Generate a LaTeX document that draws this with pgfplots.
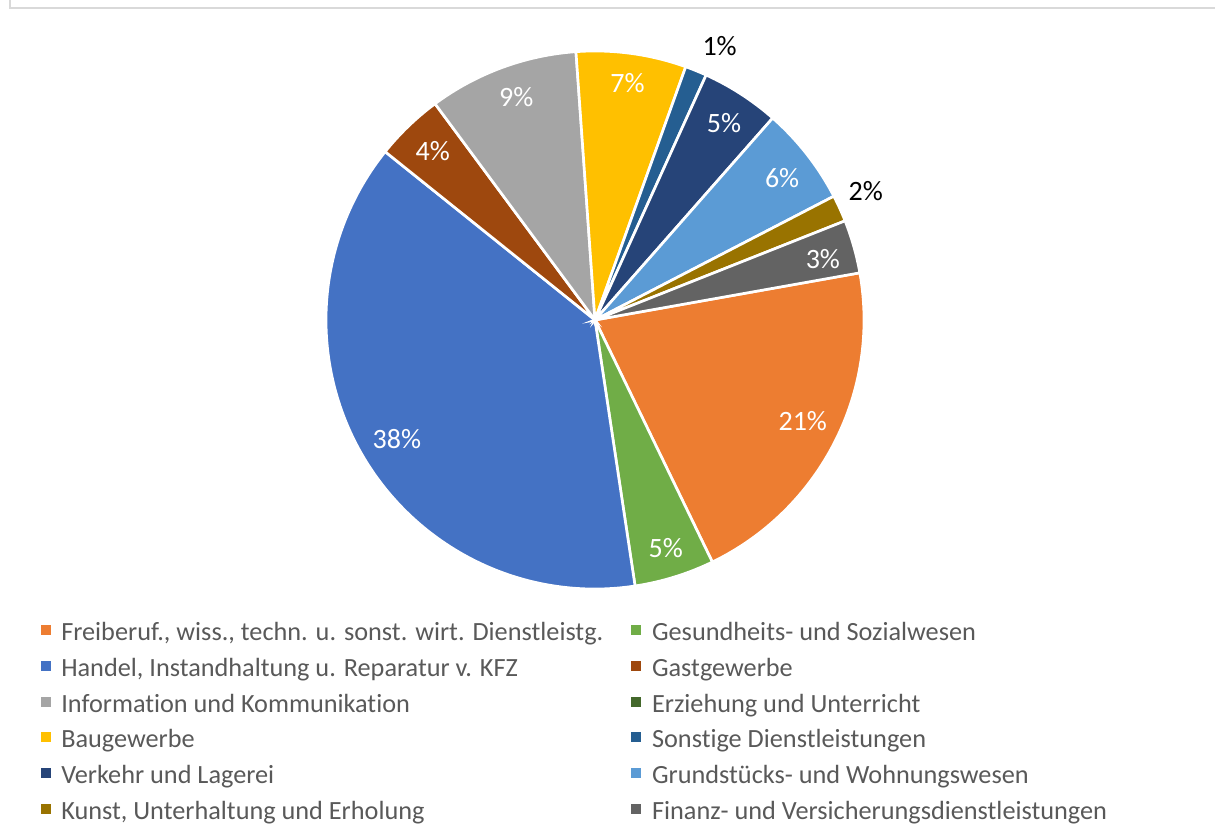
\documentclass[border=0pt]{standalone}
\usepackage{pgfplots}
\usepackage{pgfplotstable}
\pgfplotsset{compat=1.18}
\usepackage{fontspec}
\setmainfont{Carlito}[Ligatures={NoCommon}]

\definecolor{c0}{HTML}{ED7D31}
\definecolor{c1}{HTML}{70AD47}
\definecolor{c2}{HTML}{4472C4}
\definecolor{c3}{HTML}{9E480E}
\definecolor{c4}{HTML}{A5A5A5}
\definecolor{c5}{HTML}{43682B}
\definecolor{c6}{HTML}{FFC000}
\definecolor{c7}{HTML}{255E91}
\definecolor{c8}{HTML}{264478}
\definecolor{c9}{HTML}{5B9BD5}
\definecolor{c10}{HTML}{997300}
\definecolor{c11}{HTML}{636363}
\definecolor{legtext}{HTML}{595959}
\definecolor{framecol}{HTML}{D9D9D9}

% share (percent), label radius (px), label angle shift (deg), label colour flag (1 = black, outside)
\pgfplotstableread{
share lr da lc
20.6 231 1.1 0
4.8 239 0.0 0
38.1 231 1.0 0
4.1 234 0.0 0
9.0 236 -0.8 0
0.0 0 0.0 0
6.6 239 0.0 0
1.3 301 -2.4 1
4.7 235 -0.4 0
5.9 235 -0.8 0
1.6 300 1.0 1
3.2 236 -0.8 0
}\pietable

\begin{document}
\begin{tikzpicture}[x=0.75pt,y=0.75pt]
\useasboundingbox (0,0) rectangle (1215,832);
\begin{axis}[
  at={(0pt,0pt)}, anchor=origin,
  x=0.75pt, y=0.75pt,
  xmin=0, xmax=1215, ymin=0, ymax=832,
  hide axis, clip=false,
  legend columns=2,
  legend cell align=left,
  legend image code/.code={\fill[#1] (0pt,-0.9pt) rectangle (7.5pt,6.6pt);},
  legend style={draw=none, fill=none, inner sep=0pt, outer sep=0pt,
    at={(axis cs:40.6,210.3)}, anchor=north west,
    font=\fontsize{19.7}{23.6}\selectfont, text=legtext,
    nodes={inner sep=0pt, text height=14pt, text depth=4pt},
    row sep=8.9pt,
    /tikz/every odd column/.append style={column sep=8pt},
    /tikz/every even column/.append style={column sep=21pt}},
]
\pgfplotsextra{
  \pgfplotstablegetrowsof{\pietable}
  \pgfmathtruncatemacro{\nrows}{\pgfplotsretval-1}
  \gdef\total{0}
  \foreach \i in {0,...,\nrows}{
    \pgfplotstablegetelem{\i}{share}\of{\pietable}
    \pgfmathsetmacro{\tmp}{\total+\pgfplotsretval}
    \xdef\total{\tmp}
  }
  \gdef\cum{0}
  \foreach \i in {0,...,\nrows}{
    \pgfplotstablegetelem{\i}{share}\of{\pietable}\let\myv\pgfplotsretval
    \pgfmathsetmacro{\aS}{10.1-\cum/\total*360}
    \pgfmathsetmacro{\aE}{10.1-(\cum+\myv)/\total*360}
    \ifdim \myv pt>0pt
      \fill[c\i, draw=white, line width=2pt]
        (axis cs:595,512) -- ++(\aS:201.75pt)
        arc[start angle=\aS, end angle=\aE, radius=201.75pt] -- cycle;
    \fi
    \pgfmathsetmacro{\newcum}{\cum+\myv}
    \xdef\cum{\newcum}
  }
  \gdef\cum{0}
  \foreach \i in {0,...,\nrows}{
    \pgfplotstablegetelem{\i}{share}\of{\pietable}\let\myv\pgfplotsretval
    \pgfplotstablegetelem{\i}{lr}\of{\pietable}\let\mylr\pgfplotsretval
    \pgfplotstablegetelem{\i}{da}\of{\pietable}\let\myda\pgfplotsretval
    \pgfplotstablegetelem{\i}{lc}\of{\pietable}\let\mylc\pgfplotsretval
    \pgfmathsetmacro{\aM}{10.1-(\cum+\myv/2)/\total*360+\myda}
    \pgfmathtruncatemacro{\lab}{round(\myv/\total*100)}
    \pgfmathsetmacro{\rr}{\mylr*0.75}
    \ifnum\mylc=1 \def\lcol{black}\else\def\lcol{white}\fi
    \ifdim \myv pt>0pt
      \path (axis cs:595,512) ++(\aM:\rr pt)
        node[text=\lcol, inner sep=0pt, font=\fontsize{21}{25}\selectfont] {\lab\%};
    \fi
    \pgfmathsetmacro{\newcum}{\cum+\myv}
    \xdef\cum{\newcum}
  }
}
\addlegendimage{fill=c0, draw=none}
\addlegendentry{Freiberuf., wiss., techn. u. sonst. wirt. Dienstleistg.}
\addlegendimage{fill=c1, draw=none}
\addlegendentry{Gesundheits- und Sozialwesen}
\addlegendimage{fill=c2, draw=none}
\addlegendentry{Handel, Instandhaltung u. Reparatur v. KFZ}
\addlegendimage{fill=c3, draw=none}
\addlegendentry{Gastgewerbe}
\addlegendimage{fill=c4, draw=none}
\addlegendentry{Information und Kommunikation}
\addlegendimage{fill=c5, draw=none}
\addlegendentry{Erziehung und Unterricht}
\addlegendimage{fill=c6, draw=none}
\addlegendentry{Baugewerbe}
\addlegendimage{fill=c7, draw=none}
\addlegendentry{Sonstige Dienstleistungen}
\addlegendimage{fill=c8, draw=none}
\addlegendentry{Verkehr und Lagerei}
\addlegendimage{fill=c9, draw=none}
\addlegendentry{Grundstücks- und Wohnungswesen}
\addlegendimage{fill=c10, draw=none}
\addlegendentry{Kunst, Unterhaltung und Erholung}
\addlegendimage{fill=c11, draw=none}
\addlegendentry{Finanz- und Versicherungsdienstleistungen}
\end{axis}
\draw[framecol, line width=1.5pt] (9.8,832) -- (9.8,824.3) -- (1215,824.3);
\end{tikzpicture}
\end{document}
